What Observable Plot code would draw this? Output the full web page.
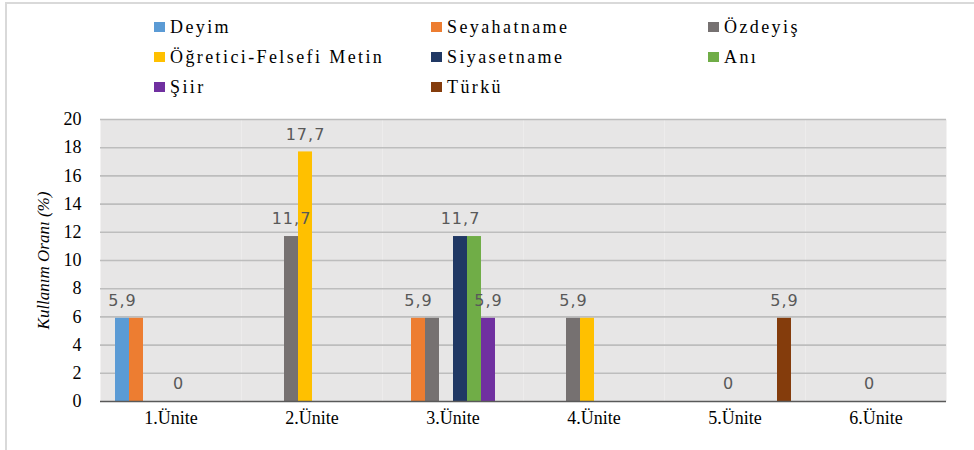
<!DOCTYPE html>
<html>
<head>
<meta charset="utf-8">
<script src="https://cdn.jsdelivr.net/npm/d3@7"></script>
<script src="https://cdn.jsdelivr.net/npm/@observablehq/plot@0.6"></script>
<style>
  html, body { margin: 0; padding: 0; background: #fff; }
  #wrap { position: relative; width: 974px; height: 450px; overflow: hidden; background: #fff; }
  #frame { position: absolute; left: 5px; top: 2px; width: 969px; height: 448px; border-top: 2px solid #D9D9D9; border-left: 2px solid #D9D9D9; box-sizing: border-box; }
  #legend { position: absolute; left: 0; top: 0; width: 974px; height: 100px; }
  .li { position: absolute; font-family: "Liberation Serif"; font-size: 18px; line-height: 20px; letter-spacing: 2.4px; color: #000; white-space: nowrap; }
  .sw { position: absolute; width: 11px; height: 10px; }
  #chart { position: absolute; left: 0; top: 100px; }
  #chart svg { font-family: "Liberation Serif"; font-size: 18px; }
  #chart g[aria-label="text"] text { letter-spacing: 1px; }
  #chart g[aria-label="y-axis label"] text { font-style: italic; font-size: 17px; }
</style>
</head>
<body>
<div id="wrap">
  <div id="frame"></div>
  <div id="legend"></div>
  <div id="chart"></div>
</div>
<script>
// ---- data ----
const units = ["1.Ünite", "2.Ünite", "3.Ünite", "4.Ünite", "5.Ünite", "6.Ünite"];
const series = ["Deyim", "Seyahatname", "Özdeyiş", "Öğretici-Felsefi Metin", "Siyasetname", "Anı", "Şiir", "Türkü"];
const colors = ["#5B9BD5", "#ED7D31", "#767171", "#FFC000", "#203864", "#70AD47", "#7030A0", "#843C0C"];

const deyim       = [5.9, 0, 0, 0, 0, 0];
const seyahatname = [5.9, 0, 5.9, 0, 0, 0];
const ozdeyis     = [0, 11.7, 5.9, 5.9, 0, 0];
const ogretici    = [0, 17.7, 0, 5.9, 0, 0];
const siyasetname = [0, 0, 11.7, 0, 0, 0];
const ani         = [0, 0, 11.7, 0, 0, 0];
const siir        = [0, 0, 5.9, 0, 0, 0];
const turku       = [0, 0, 0, 0, 5.9, 0];
const seriesValues = [deyim, seyahatname, ozdeyis, ogretici, siyasetname, ani, siir, turku];

const yTicks = [0, 2, 4, 6, 8, 10, 12, 14, 16, 18, 20];

// data labels shown in the chart (unit index, series index)
const labelUnits  = [0, 0, 1, 1, 2, 2, 2, 3, 4, 4, 5];
const labelSeries = [0, 4, 2, 3, 1, 4, 6, 2, 3, 7, 3];

// ---- build tables ----
const table = [];
units.forEach((u, i) => series.forEach((s, j) => table.push({unit: u, series: s, value: seriesValues[j][i]})));
const labels = labelUnits.map((ui, k) => {
  const sj = labelSeries[k];
  return {unit: units[ui], series: series[sj], value: seriesValues[sj][ui]};
});
const fmt = v => String(v).replace(".", ",");

// ---- legend ----
const legend = document.getElementById("legend");
const colX = [154, 431, 708];
const rowY = [27, 57, 87];
series.forEach((s, i) => {
  const c = i % 3, r = Math.floor(i / 3);
  const sw = document.createElement("div");
  sw.className = "sw";
  sw.style.left = colX[c] + "px";
  sw.style.top = (rowY[r] - 5) + "px";
  sw.style.background = colors[i];
  legend.appendChild(sw);
  const t = document.createElement("div");
  t.className = "li";
  t.style.left = (colX[c] + 16) + "px";
  t.style.top = (rowY[r] - 10) + "px";
  t.textContent = s;
  legend.appendChild(t);
});

// ---- chart ----
const chart = Plot.plot({
  width: 974,
  height: 350,
  marginTop: 19,
  marginBottom: 49,
  marginLeft: 100,
  marginRight: 28,
  style: {fontFamily: "Liberation Serif", fontSize: "18px", color: "#000", background: "transparent", overflow: "visible"},
  fx: {domain: units, padding: 0, label: null, tickSize: 0, tickPadding: 10, axis: "bottom"},
  x: {domain: series, paddingInner: 0, paddingOuter: 1.03, axis: null},
  y: {domain: [0, 20], ticks: yTicks, tickSize: 0, tickPadding: 19, label: "Kullanım Oranı (%)", labelAnchor: "center", labelOffset: 64, labelArrow: "none"},
  color: {domain: series, range: colors},
  marks: [
    Plot.frame({fill: "#E7E6E6", stroke: null}),
    Plot.ruleY(yTicks.filter(t => t > 0), {stroke: "#BDBDBD", strokeWidth: 1.6}),
    Plot.barY(table.filter(d => d.value > 0), {fx: "unit", x: "series", y: "value", fill: "series"}),
    Plot.ruleY([0], {stroke: "#595959", strokeWidth: 1.5}),
    Plot.text(labels, {fx: "unit", x: "series", y: "value", text: d => fmt(d.value), dy: -17.5, fill: "#595959", fontFamily: "DejaVu Sans", fontSize: 16})
  ]
});
document.getElementById("chart").appendChild(chart);
</script>
</body>
</html>
